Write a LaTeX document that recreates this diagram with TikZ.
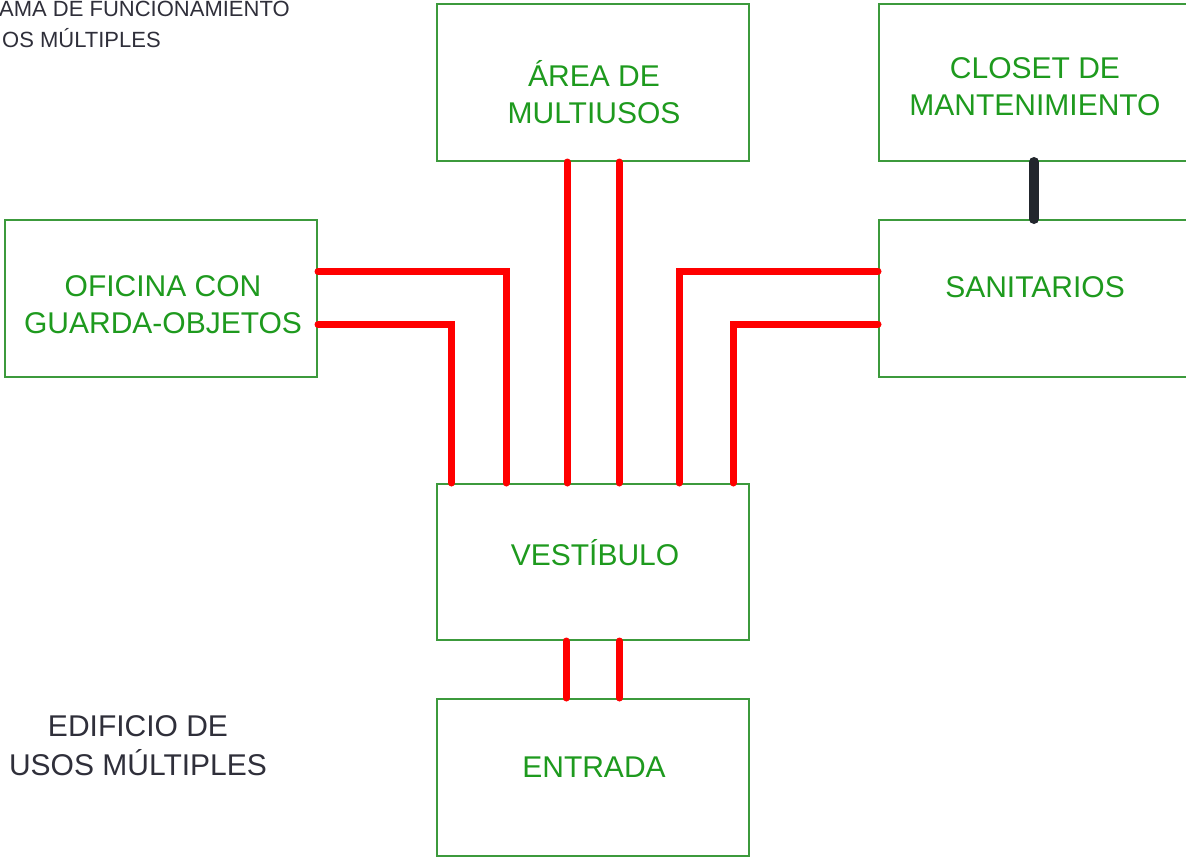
\documentclass[tikz,border=0pt]{standalone}
\usepackage{fontspec}
\setmainfont{Liberation Sans}
\usetikzlibrary{calc}
\definecolor{boxgreen}{HTML}{3C9A3C}
\definecolor{txtgreen}{HTML}{1E9A1E}
\definecolor{flowred}{HTML}{FF0000}
\definecolor{darkline}{HTML}{22262D}
\definecolor{titlegray}{HTML}{2F2F3A}
\begin{document}
\begin{tikzpicture}[x=1pt,y=-1pt,
  room/.style={draw=boxgreen, line width=2pt, minimum width=312pt, minimum height=157pt, inner sep=0pt, anchor=north west},
  lbl/.style={text=txtgreen, font=\fontsize{30}{36.5}\selectfont, anchor=base, align=center, inner sep=0pt},
  ttl/.style={text=titlegray, font=\fontsize{22}{26}\selectfont, anchor=base west, inner sep=0pt},
  captext/.style={text=titlegray, font=\fontsize{30}{39}\selectfont, anchor=base, align=center, inner sep=0pt},
  flow/.style={draw=flowred, line width=7pt, line cap=round},
  service/.style={draw=darkline, line width=10pt, line cap=round}
]
\useasboundingbox (0,0) rectangle (1186,857);
\fill[white] (0,0) rectangle (1186,857);

% rooms
\node[room] (area)   at (436,3)   {};
\node[room] (closet) at (878,3)   {};
\node[room] (ofi)    at (4,219)   {};
\node[room] (sani)   at (878,219) {};
\node[room, minimum height=156pt] (vest) at (436,483) {};
\node[room] (entr)   at (436,698) {};

% labels (base anchor = baseline of the last line)
\node[lbl] (areat)   at (594,123)  {ÁREA DE\\MULTIUSOS};
\node[lbl] (closett) at (1035,115) {CLOSET DE\\MANTENIMIENTO};
\node[lbl] (ofit)    at (163,333)  {OFICINA CON\\GUARDA-OBJETOS};
\node[lbl] (sanit)   at (1035,297) {SANITARIOS};
\node[lbl] (vestt)   at (595,565)  {VESTÍBULO};
\node[lbl] (entrt)   at (594,777)  {ENTRADA};

\node[captext] (edif) at (138,775) {EDIFICIO DE\\USOS MÚLTIPLES};
\node[ttl] (tit1) at (-1,16) {AMA DE FUNCIONAMIENTO};
\node[ttl] (tit2) at (2,47)  {OS MÚLTIPLES};

% connectors
\draw[flow] ([xshift=-26pt]area.south) -- ([xshift=-26pt]vest.north);
\draw[flow] ([xshift=26pt]area.south)  -- ([xshift=26pt]vest.north);
\draw[flow] ([yshift=27pt]ofi.east)  -| ([xshift=-87pt]vest.north);
\draw[flow] ([yshift=-26pt]ofi.east) -| ([xshift=-141.5pt]vest.north);
\draw[flow] ([yshift=27.5pt]sani.west)  -| ([xshift=86pt]vest.north);
\draw[flow] ([yshift=-25.5pt]sani.west) -| ([xshift=140pt]vest.north);
\draw[flow] ([xshift=-27pt]vest.south) -- ([xshift=-27pt]entr.north);
\draw[flow] ([xshift=26.5pt]vest.south) -- ([xshift=26.5pt]entr.north);
\draw[service] ([xshift=-1pt]closet.south) -- ([xshift=-1pt]sani.north);
\end{tikzpicture}
\end{document}
